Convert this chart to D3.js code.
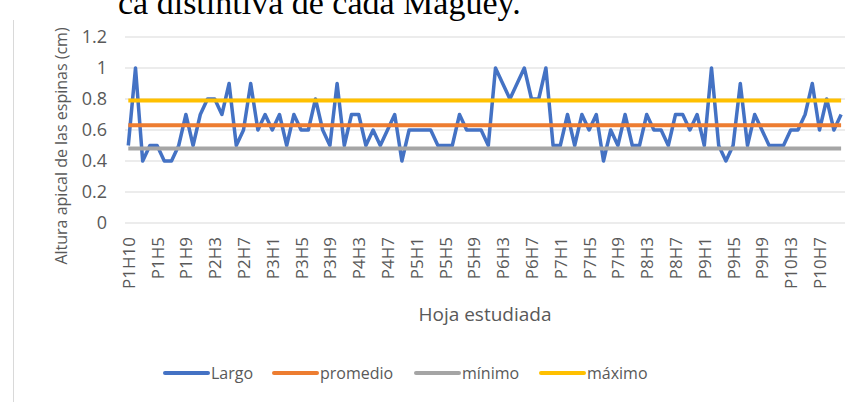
<!DOCTYPE html>
<html>
<head>
<meta charset="utf-8">
<script src="https://cdn.jsdelivr.net/npm/d3@7"></script>
<style>
  body { margin: 0; background: #fff; }
  text { font-family: "Open Sans", sans-serif; }
</style>
</head>
<body>
<div class="main-container"></div>
<script>
// leaf labels shown on the axis (every 4th leaf)
var xTickLabels = ["P1H10", "P1H5", "P1H9", "P2H3", "P2H7", "P3H1", "P3H5", "P3H9",
    "P4H3", "P4H7", "P5H1", "P5H5", "P5H9", "P6H3", "P6H7", "P7H1", "P7H5", "P7H9",
    "P8H3", "P8H7", "P9H1", "P9H5", "P9H9", "P10H3", "P10H7"];

// Largo, one value per leaf (100 leaves)
var largo = [
    0.5, 1.0, 0.4, 0.5, 0.5, 0.4, 0.4, 0.5, 0.7, 0.5,
    0.7, 0.8, 0.8, 0.7, 0.9, 0.5, 0.6, 0.9, 0.6, 0.7,
    0.6, 0.7, 0.5, 0.7, 0.6, 0.6, 0.8, 0.6, 0.5, 0.9,
    0.5, 0.7, 0.7, 0.5, 0.6, 0.5, 0.6, 0.7, 0.4, 0.6,
    0.6, 0.6, 0.6, 0.5, 0.5, 0.5, 0.7, 0.6, 0.6, 0.6,
    0.5, 1.0, 0.9, 0.8, 0.9, 1.0, 0.8, 0.8, 1.0, 0.5,
    0.5, 0.7, 0.5, 0.7, 0.6, 0.7, 0.4, 0.6, 0.5, 0.7,
    0.5, 0.5, 0.7, 0.6, 0.6, 0.5, 0.7, 0.7, 0.6, 0.7,
    0.5, 1.0, 0.5, 0.4, 0.5, 0.9, 0.5, 0.7, 0.6, 0.5,
    0.5, 0.5, 0.6, 0.6, 0.7, 0.9, 0.6, 0.8, 0.6, 0.7
];

var promedio = 0.63;
var minimo = 0.48;
var maximo = 0.79;

var yTicks = [0, 0.2, 0.4, 0.6, 0.8, 1, 1.2];

var series = [
    { name: "Largo", color: "#4472C4" },
    { name: "promedio", color: "#ED7D31", value: promedio },
    { name: "mínimo", color: "#A5A5A5", value: minimo },
    { name: "máximo", color: "#FFC000", value: maximo }
];

var svg = d3.select(".main-container")
    .append("svg")
    .attr("width", 854)
    .attr("height", 402);

// piece of the document text above the chart (cut at the top, as in the page)
svg.append("text")
    .attr("x", 118)
    .attr("y", 14)
    .style("font-family", "'Liberation Serif', serif")
    .style("font-size", "34px")
    .attr("fill", "#000")
    .text("ca distintiva de cada Maguey.");

// chart frame (left edge visible)
svg.append("line")
    .attr("x1", 13.5).attr("x2", 13.5)
    .attr("y1", 20).attr("y2", 402)
    .attr("stroke", "#d9d9d9");

var x = d3.scaleLinear().domain([0, largo.length - 1]).range([128.3, 841.1]);
var y = d3.scaleLinear().domain([0, 1.2]).range([223, 37]);

// gridlines
svg.append("g")
    .selectAll("line")
    .data(yTicks)
    .enter()
    .append("line")
    .attr("x1", 125).attr("x2", 845)
    .attr("y1", function (d) { return y(d); })
    .attr("y2", function (d) { return y(d); })
    .attr("stroke", "#d9d9d9")
    .attr("stroke-width", 1);

// y axis labels
var yAxis = svg.append("g")
    .attr("transform", "translate(113,0)")
    .call(d3.axisLeft(y).tickValues(yTicks).tickSize(0).tickPadding(6)
        .tickFormat(function (d) { return String(d); }));
yAxis.select(".domain").remove();
yAxis.selectAll("text")
    .style("font-size", "18px")
    .attr("fill", "#595959");

// x axis labels
var xAxis = svg.append("g")
    .attr("transform", "translate(0,230)")
    .call(d3.axisBottom(x).tickValues(d3.range(0, 100, 4)).tickSize(0)
        .tickFormat(function (d) { return xTickLabels[d / 4]; }));
xAxis.select(".domain").remove();
xAxis.selectAll("text")
    .style("font-size", "17px")
    .attr("fill", "#595959")
    .attr("transform", "rotate(-90)")
    .attr("text-anchor", "end")
    .attr("x", -7)
    .attr("y", 0)
    .attr("dy", "0.35em");

// Largo line
svg.append("path")
    .datum(largo)
    .attr("fill", "none")
    .attr("stroke", series[0].color)
    .attr("stroke-width", 3.5)
    .attr("stroke-linejoin", "round")
    .attr("d", d3.line()
        .x(function (d, i) { return x(i); })
        .y(function (d) { return y(d); }));

// constant lines drawn on top
series.slice(1).forEach(function (s) {
    svg.append("line")
        .attr("x1", x(0)).attr("x2", x(largo.length - 1))
        .attr("y1", y(s.value)).attr("y2", y(s.value))
        .attr("stroke", s.color)
        .attr("stroke-width", 4);
});

// axis titles
svg.append("text")
    .attr("x", 485)
    .attr("y", 321)
    .attr("text-anchor", "middle")
    .style("font-size", "19px")
    .attr("fill", "#595959")
    .text("Hoja estudiada");

svg.append("text")
    .attr("transform", "translate(67,146) rotate(-90)")
    .attr("text-anchor", "middle")
    .style("font-size", "16px")
    .attr("fill", "#595959")
    .text("Altura apical de las espinas (cm)");

// legend
var legendX = [165, 274, 416, 541];
var legend = svg.append("g")
    .selectAll("g")
    .data(series)
    .enter()
    .append("g")
    .attr("transform", function (d, i) { return "translate(" + legendX[i] + ",373)"; });
legend.append("line")
    .attr("x1", 0).attr("x2", 43)
    .attr("stroke", function (d) { return d.color; })
    .attr("stroke-width", 4)
    .attr("stroke-linecap", "round");
legend.append("text")
    .attr("x", 46)
    .attr("dy", "0.35em")
    .style("font-size", "16px")
    .attr("fill", "#595959")
    .text(function (d) { return d.name; });
</script>
</body>
</html>
